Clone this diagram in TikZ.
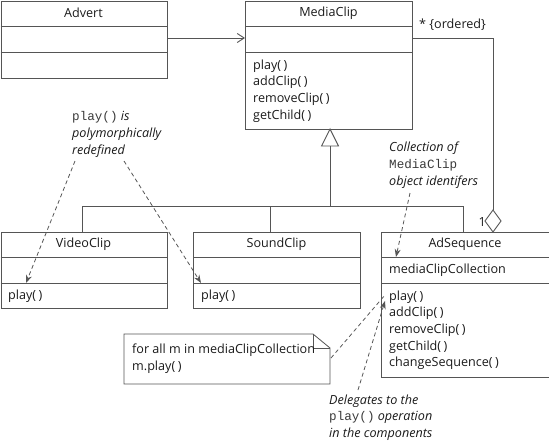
\documentclass[tikz,border=0pt]{standalone}
\usepackage{fontspec}
\setmainfont{Open Sans}
\newfontfamily\monof{Liberation Mono}
\usetikzlibrary{arrows.meta,calc}
\definecolor{ln}{HTML}{555555}
\definecolor{tx}{HTML}{1A1A1A}
\definecolor{mx}{HTML}{3A3A3A}
\begin{document}
\begin{tikzpicture}[x=1pt,y=-1pt,
  box/.style={draw=ln,line width=0.9pt,rectangle,inner sep=0pt,anchor=north west},
  lbl/.style={inner sep=0pt,text=tx,font=\fontsize{12.6}{16.6}\selectfont},
  ops/.style={lbl,anchor=north west,align=left},
  ttl/.style={lbl,anchor=center},
  cmt/.style={inner sep=0pt,text=tx,anchor=north west,align=left,font=\fontsize{12.6}{16.8}\selectfont\itshape},
  conn/.style={draw=ln,line width=0.9pt},
  dsh/.style={draw=ln,line width=0.8pt,dash pattern=on 4pt off 3pt},
  dtip/.style={-{Stealth[length=8pt,width=6pt]}},
]
\useasboundingbox (0,0) rectangle (549,442);
\newcommand{\mcode}[1]{{\monof\upshape\color{mx}\fontsize{12.6}{17}\selectfont #1}}
\newcommand{\pp}{(\kern2.5pt)}

% Advert
\node[box,minimum width=166.5pt,minimum height=77.5pt] (advert) at (0.5,0.5) {};
\node[ttl] (advertT) at (83.5,13) {Advert};
\draw[conn] (0.5,26) -- (167,26) (0.5,52) -- (167,52);

% MediaClip
\node[box,minimum width=167pt,minimum height=128.5pt] (media) at (245,0.5) {};
\node[ttl] (mediaT) at (328.5,13) {MediaClip};
\draw[conn] (245,26) -- (412,26) (245,52) -- (412,52);
\node[ops] (mediaO) at (253,59.5) {play\pp\\addClip\pp\\removeClip\pp\\getChild\pp};

% VideoClip
\node[box,minimum width=166.5pt,minimum height=76pt] (video) at (0.5,232) {};
\node[ttl] (videoT) at (83.5,244.5) {VideoClip};
\draw[conn] (0.5,257) -- (167,257) (0.5,283) -- (167,283);
\node[ops] (videoO) at (8,289.5) {play\pp};

% SoundClip
\node[box,minimum width=167pt,minimum height=76pt] (sound) at (193,232) {};
\node[ttl] (soundT) at (276.5,244.5) {SoundClip};
\draw[conn] (193,257) -- (360,257) (193,283) -- (360,283);
\node[ops] (soundO) at (201,289.5) {play\pp};

% AdSequence
\node[box,minimum width=167.5pt,minimum height=145pt] (adseq) at (381,232) {};
\node[ttl] (adseqT) at (465,244.5) {AdSequence};
\draw[conn] (381,257) -- (548.5,257) (381,283) -- (548.5,283);
\node[ops] (adseqA) at (389,263.5) {mediaClipCollection};
\node[ops] (adseqO) at (389,290.5) {play\pp\\addClip\pp\\removeClip\pp\\getChild\pp\\changeSequence\pp};

% association Advert -> MediaClip
\draw[conn,-{Straight Barb[length=7pt,width=9pt]}] (advert.east |- 0,38) -- (media.west |- 0,38);

% generalisation
\coordinate (gtip) at (330,129);
\coordinate (gbase) at (330,146);
\coordinate (gjoin) at (330,206);
\draw[conn,fill=white] (gtip) -- (338.5,146) -- (321.5,146) -- cycle;
\draw[conn] (gbase) -- (gjoin);
\draw[conn] (82,206) -- (463,206);
\draw[conn] (82,206) -- (82,232);
\draw[conn] (270,206) -- (270,232);
\draw[conn] (463,206) -- (463,232);

% aggregation
\coordinate (dtop) at (493,210);
\draw[conn] (media.east |- 0,38) -- (493,38) -- (dtop);
\draw[conn,fill=white] (dtop) -- (501,221) -- (493,232) -- (485,221) -- cycle;
\node[lbl,anchor=west] (ord) at (419,25) {* \{ordered\}};
\node[lbl,anchor=east] (one) at (486,222) {1};

% comment 1
\node[cmt] (c1) at (72,111) {\mcode{play()} is\\polymorphically\\redefined};
\coordinate (c1a) at (75,161);
\coordinate (c1b) at (124,161);
\coordinate (v1) at (26,283);
\coordinate (s1) at (201,283);
\draw[dsh,dtip] (c1a) -- (v1);
\draw[dsh,dtip] (c1b) -- (s1);

% comment 2
\node[cmt] (c2) at (389,142) {Collection of\\\mcode{MediaClip}\\object identifers};
\coordinate (c2a) at (410,193);
\coordinate (a1) at (396,257);
\draw[dsh,dtip] (c2a) -- (a1);

% note
\draw[conn,line width=0.8pt] (124,334) -- (313,334) -- (330,348) -- (330,384) -- (124,384) -- cycle;
\draw[conn,line width=0.8pt] (313,334) -- (313,348) -- (330,348);
\node[ops] (noteT) at (132,344) {for all m in mediaClipCollection\\m.play\pp};
\coordinate (noteR) at (331,358);
\coordinate (playA) at (385,295);
\draw[dsh] (noteR) -- (playA);

% comment 3
\node[cmt,font=\fontsize{12.6}{16.4}\selectfont\itshape] (c3) at (329,394.5) {Delegates to the\\\mcode{play()} operation\\in the components};
\coordinate (c3a) at (358,390);
\coordinate (playB) at (385,301);
\draw[dsh,dtip] (c3a) -- (playB);
\end{tikzpicture}
\end{document}
